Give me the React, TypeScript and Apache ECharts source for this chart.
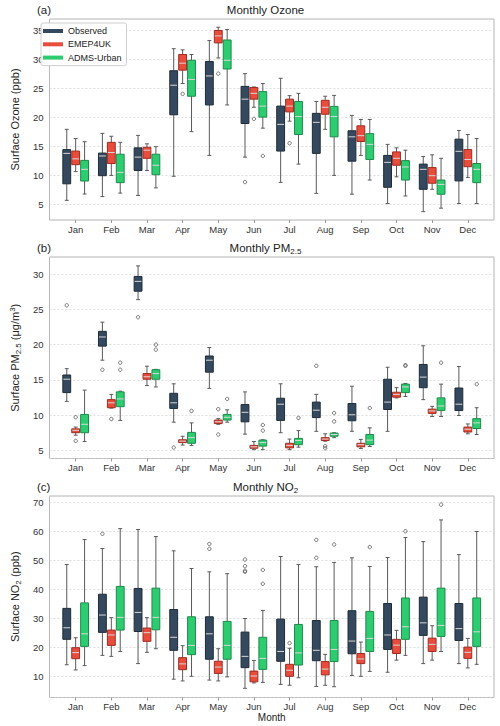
import React, { useEffect, useRef } from "react";
import * as echarts from "echarts";

const MONTHS = ["Jan", "Feb", "Mar", "Apr", "May", "Jun", "Jul", "Aug", "Sep", "Oct", "Nov", "Dec"];
const SERIES_NAMES = ["Observed", "EMEP4UK", "ADMS-Urban"];

// [min, q1, median, q3, max] per month
const OZONE_OBS = [
  [5.75, 8.6, 13.85, 14.5, 18.0], [6.4, 10.0, 13.4, 13.9, 17.3], [6.6, 10.9, 13.2, 14.8, 16.95],
  [9.9, 20.5, 25.6, 28.1, 31.9], [13.5, 22.2, 27.2, 29.7, 33.3], [13.2, 19.0, 23.2, 25.4, 27.6],
  [8.85, 14.25, 18.85, 22.0, 26.8], [6.95, 13.85, 19.2, 20.75, 22.8], [6.8, 12.5, 16.7, 17.75, 20.4],
  [5.2, 8.0, 12.3, 13.5, 15.4], [3.8, 7.65, 11.1, 12.0, 13.3], [5.2, 9.1, 14.2, 16.3, 17.8],
];
const OZONE_EMEP = [
  [10.7, 11.9, 12.9, 14.25, 16.4], [10.05, 12.1, 14.0, 15.75, 16.8], [10.9, 13.0, 14.4, 14.9, 15.5],
  [25.9, 28.2, 29.4, 30.9, 31.7], [30.3, 32.9, 34.1, 35.05, 35.6], [21.8, 23.2, 24.2, 25.2, 25.3],
  [19.4, 21.0, 22.0, 23.2, 23.8], [18.0, 20.6, 21.8, 23.0, 23.7], [13.5, 15.9, 16.9, 18.6, 19.7],
  [9.8, 11.8, 13.0, 14.1, 14.8], [7.65, 8.7, 10.0, 11.4, 13.6], [9.7, 11.55, 12.8, 14.5, 17.1],
];
const OZONE_ADMS = [
  [6.84, 9.08, 11.1, 12.64, 15.86], [7.0, 8.8, 10.57, 13.7, 15.75], [7.9, 10.17, 11.8, 13.7, 15.0],
  [17.6, 23.7, 26.6, 29.9, 30.9], [22.2, 28.4, 29.9, 33.4, 35.2], [18.2, 20.1, 22.0, 24.5, 25.9],
  [12.0, 17.1, 20.2, 22.8, 24.2], [10.05, 16.7, 20.2, 21.95, 23.85], [9.25, 12.8, 15.4, 17.25, 19.7],
  [6.5, 9.25, 11.5, 12.6, 14.4], [4.4, 6.8, 8.5, 9.25, 13.0], [5.2, 8.8, 11.1, 12.1, 16.4],
];
// outliers: [monthIndex, value]
const OZONE_OBS_OUT = [[5, 8.9]];
const OZONE_EMEP_OUT = [[3, 24.1], [4, 27.6], [5, 19.8], [6, 15.6]];
const OZONE_ADMS_OUT = [[5, 13.4]];

const PM_OBS = [
  [11.95, 13.2, 15.1, 15.7, 16.6], [17.8, 19.8, 21.1, 21.9, 23.2], [26.4, 27.6, 29.0, 29.7, 31.2],
  [9.0, 10.95, 11.75, 13.1, 14.45], [13.8, 16.1, 17.8, 18.4, 19.6], [7.3, 9.05, 10.4, 11.5, 13.3],
  [7.5, 9.25, 11.55, 12.4, 14.45], [7.7, 9.65, 10.7, 11.85, 12.95], [7.7, 9.2, 10.05, 11.65, 14.1],
  [7.7, 10.8, 11.85, 15.1, 16.8], [12.2, 13.9, 15.4, 17.2, 19.85], [9.95, 10.65, 11.55, 13.85, 16.9],
];
const PM_EMEP = [
  [7.15, 7.5, 7.85, 8.05, 8.3], [11.0, 11.05, 11.75, 12.2, 12.95], [14.2, 15.1, 15.45, 15.9, 16.95],
  [5.75, 6.1, 6.3, 6.5, 7.0], [8.7, 8.8, 9.05, 9.3, 9.5], [5.1, 5.3, 5.5, 5.7, 6.25],
  [5.1, 5.35, 5.7, 6.0, 6.6], [6.3, 6.4, 6.6, 6.8, 7.35], [5.25, 5.5, 5.8, 6.0, 6.55],
  [12.45, 12.55, 12.95, 13.25, 13.9], [9.8, 10.25, 10.6, 10.85, 11.25], [7.35, 7.6, 8.0, 8.3, 8.75],
];
const PM_ADMS = [
  [6.25, 7.5, 8.7, 10.1, 13.55], [9.25, 11.2, 12.3, 13.3, 13.4], [14.0, 15.1, 15.9, 16.45, 16.5],
  [5.7, 6.0, 6.8, 7.55, 8.9], [9.0, 9.3, 9.7, 10.1, 10.75], [5.1, 5.6, 6.1, 6.45, 6.5],
  [5.45, 5.8, 6.4, 6.7, 7.8], [6.8, 7.0, 7.25, 7.45, 7.5], [5.55, 5.8, 6.45, 7.25, 8.2],
  [12.65, 13.2, 14.0, 14.4, 14.5], [9.8, 10.65, 11.3, 12.45, 14.4], [7.25, 8.1, 8.9, 9.5, 11.05],
];
const PM_OBS_OUT = [[0, 25.6], [1, 16.45], [2, 23.9], [3, 5.4], [7, 17.0]];
const PM_EMEP_OUT = [[0, 9.7], [0, 6.35], [1, 9.45], [4, 10.85], [4, 7.25], [7, 5.6], [7, 5.3]];
const PM_ADMS_OUT = [
  [1, 17.45], [1, 16.45], [2, 20.0], [2, 19.3], [3, 10.6], [4, 12.3], [5, 8.6], [5, 7.8],
  [6, 9.6], [7, 10.3], [7, 9.1], [8, 11.0], [9, 17.0], [9, 17.1], [10, 17.45], [11, 14.4],
];

const NO2_OBS = [
  [13.9, 22.7, 26.7, 33.4, 48.6], [17.15, 25.1, 31.1, 38.3, 54.1], [14.3, 25.4, 32.0, 40.3, 60.7],
  [8.9, 18.9, 23.4, 33.0, 53.3], [8.6, 15.8, 24.6, 30.5, 46.05], [5.75, 12.9, 16.8, 25.2, 29.9],
  [7.1, 15.1, 18.5, 29.7, 51.35], [6.4, 15.3, 18.9, 29.2, 47.8], [10.2, 17.7, 22.1, 32.6, 50.9],
  [11.3, 19.2, 24.2, 35.1, 51.0], [14.3, 24.05, 28.4, 37.3, 56.5], [14.3, 22.3, 26.4, 35.1, 52.0],
];
const NO2_EMEP = [
  [12.1, 16.0, 18.1, 19.8, 23.25], [16.8, 20.6, 24.2, 25.9, 30.2], [18.2, 22.0, 25.0, 26.6, 30.2],
  [8.3, 12.2, 14.2, 16.35, 20.5], [8.3, 10.9, 13.1, 15.1, 19.45], [7.6, 8.0, 10.0, 11.7, 15.4],
  [6.8, 9.9, 12.0, 14.05, 19.6], [6.8, 10.4, 12.4, 15.0, 17.5], [9.9, 14.3, 15.9, 17.8, 21.75],
  [15.5, 17.8, 20.7, 22.7, 25.8], [15.5, 18.5, 20.95, 23.1, 27.4], [12.8, 16.1, 18.2, 20.0, 23.0],
];
const NO2_ADMS = [
  [13.6, 20.25, 24.6, 35.3, 57.2], [18.5, 25.9, 30.3, 41.0, 61.0], [19.45, 26.0, 30.3, 40.4, 58.25],
  [9.9, 17.4, 20.6, 30.5, 47.2], [9.7, 15.8, 20.6, 28.9, 45.4], [7.8, 12.3, 16.1, 23.4, 32.7],
  [9.4, 13.8, 18.0, 27.85, 48.6], [6.3, 15.0, 19.2, 29.2, 49.3], [11.6, 18.5, 23.0, 32.35, 47.9],
  [17.15, 22.7, 27.05, 37.0, 57.9], [18.5, 23.7, 27.5, 40.4, 64.0], [14.05, 20.25, 25.3, 37.0, 60.0],
];
const NO2_OBS_OUT = [[1, 59.2], [4, 55.7], [4, 54.0], [5, 50.3], [5, 48.0], [5, 46.4], [5, 46.05], [7, 57.1], [7, 50.9]];
const NO2_EMEP_OUT = [[6, 21.4]];
const NO2_ADMS_OUT = [[5, 46.7], [5, 41.9], [7, 55.5], [8, 54.6], [9, 60.1], [10, 69.3]];

const FONT = "'Liberation Sans', Arial, Helvetica, sans-serif";
const FILLS = ["#34495e", "#e74c3c", "#2ecc71"];
const EDGES = ["#1f2b38", "#9e2b20", "#1c8a4a"];
const OFFSETS = [-0.25, 0, 0.25];
const BOX_W = 0.22;
const WHISKER = "#5a5a5a";

const PANELS = [
  { top: 19, height: 201, min: 2.36, max: 37.02, split: 7, name: "Surface Ozone (ppb)", title: "Monthly Ozone", tag: "(a)",
    boxes: [OZONE_OBS, OZONE_EMEP, OZONE_ADMS], outs: [OZONE_OBS_OUT, OZONE_EMEP_OUT, OZONE_ADMS_OUT] },
  { top: 257, height: 201.5, min: 3.84, max: 32.46, split: 6, name: "Surface PM{sub|2.5} (μg/m{sup|3})", title: "Monthly PM{tsub|2.5}", tag: "(b)",
    boxes: [PM_OBS, PM_EMEP, PM_ADMS], outs: [PM_OBS_OUT, PM_EMEP_OUT, PM_ADMS_OUT] },
  { top: 496, height: 201.5, min: 2.57, max: 72.28, split: 7, name: "Surface NO{sub|2} (ppb)", title: "Monthly NO{tsub|2}", tag: "(c)",
    boxes: [NO2_OBS, NO2_EMEP, NO2_ADMS], outs: [NO2_OBS_OUT, NO2_EMEP_OUT, NO2_ADMS_OUT] },
];

function boxRender(k: number) {
  return (params: any, api: any) => {
    const x = api.value(0) + OFFSETS[k];
    const lo = api.coord([x, api.value(1)]);
    const q1 = api.coord([x, api.value(2)]);
    const md = api.coord([x, api.value(3)]);
    const q3 = api.coord([x, api.value(4)]);
    const hi = api.coord([x, api.value(5)]);
    const w = api.size([BOX_W, 0])[0];
    const cx = lo[0];
    const cap = w * 0.25;
    const ws = { stroke: WHISKER, lineWidth: 1 };
    return {
      type: "group",
      children: [
        { type: "line", shape: { x1: cx, y1: hi[1], x2: cx, y2: q3[1] }, style: ws },
        { type: "line", shape: { x1: cx, y1: q1[1], x2: cx, y2: lo[1] }, style: ws },
        { type: "line", shape: { x1: cx - cap, y1: hi[1], x2: cx + cap, y2: hi[1] }, style: ws },
        { type: "line", shape: { x1: cx - cap, y1: lo[1], x2: cx + cap, y2: lo[1] }, style: ws },
        { type: "rect", shape: { x: cx - w / 2, y: q3[1], width: w, height: q1[1] - q3[1] },
          style: { fill: FILLS[k], stroke: EDGES[k], lineWidth: 1 } },
        { type: "line", shape: { x1: cx - w / 2 + 0.5, y1: md[1], x2: cx + w / 2 - 0.5, y2: md[1] },
          style: { stroke: "#d8d8d8", lineWidth: 1 } },
      ],
    };
  };
}

function outRender(k: number) {
  return (params: any, api: any) => {
    const p = api.coord([api.value(0) + OFFSETS[k], api.value(1)]);
    return { type: "circle", shape: { cx: p[0], cy: p[1], r: 1.7 }, style: { fill: "none", stroke: "#555", lineWidth: 0.8 } };
  };
}

const RICH = {
  sub: { fontSize: 8, verticalAlign: "bottom", fontFamily: FONT, color: "#222", lineHeight: 14 },
  sup: { fontSize: 8, verticalAlign: "top", fontFamily: FONT, color: "#222", lineHeight: 14 },
};

export default function App() {
  const ref = useRef<HTMLDivElement>(null);
  useEffect(() => {
    if (!ref.current) return;
    const chart = echarts.init(ref.current, undefined, { renderer: "svg" });
    const grids: any[] = [];
    const xAxes: any[] = [];
    const yAxes: any[] = [];
    const series: any[] = [];
    const graphics: any[] = [];
    const ticks = MONTHS.map((_, i) => i);
    PANELS.forEach((p, gi) => {
      grids.push({ left: 37, top: p.top, width: 457, height: p.height, show: true, borderColor: "#b5b5b5", borderWidth: 1, containLabel: false });
      xAxes.push({
        type: "value", gridIndex: gi, min: -0.735, max: 11.735,
        axisLine: { show: false },
        splitLine: { show: false },
        axisTick: { show: true, customValues: ticks, length: 3, lineStyle: { color: "#999" } },
        axisLabel: { customValues: ticks, formatter: (v: number) => MONTHS[Math.round(v)] ?? "", fontSize: 9.5, color: "#333", fontFamily: FONT, margin: 4 },
        name: gi === 2 ? "Month" : "", nameLocation: "middle", nameGap: 14,
        nameTextStyle: { fontSize: 10, color: "#222", fontFamily: FONT },
      });
      yAxes.push({
        type: "value", gridIndex: gi, min: p.min, max: p.max, splitNumber: p.split,
        axisLine: { show: false }, axisTick: { show: false },
        splitLine: { show: true, lineStyle: { color: "#d6d6d6", type: [2, 2], width: 0.8 } },
        axisLabel: { fontSize: 9.5, color: "#333", fontFamily: FONT, margin: 6, showMinLabel: false, showMaxLabel: false },
        name: p.name, nameLocation: "middle", nameGap: 18, nameRotate: 90,
        nameTextStyle: { fontSize: 11, color: "#222", fontFamily: FONT, lineHeight: 14, rich: RICH },
      });
      for (let k = 0; k < 3; k++) {
        series.push({
          type: "custom", name: SERIES_NAMES[k], xAxisIndex: gi, yAxisIndex: gi,
          itemStyle: { color: FILLS[k], borderColor: EDGES[k] },
          renderItem: boxRender(k),
          encode: { x: 0, y: [1, 2, 3, 4, 5] },
          data: p.boxes[k].map((b, i) => [i, ...b]),
          silent: true,
        });
        series.push({
          type: "custom", name: SERIES_NAMES[k] + " outliers", xAxisIndex: gi, yAxisIndex: gi,
          renderItem: outRender(k),
          encode: { x: 0, y: 1 },
          data: p.outs[k],
          silent: true,
        });
      }
      const ty = p.top - 9;
      graphics.push({ type: "text", x: 37, y: ty, style: { text: p.tag, fontSize: 11.5, fontFamily: FONT, fill: "#222", align: "left", verticalAlign: "middle" } });
      graphics.push({ type: "text", x: 265.5, y: ty, style: {
        text: p.title, fontSize: 11.5, fontFamily: FONT, fill: "#222", align: "center", verticalAlign: "middle",
        rich: { tsub: { fontSize: 8, fontFamily: FONT, fill: "#222", verticalAlign: "bottom", lineHeight: 15 } },
        lineHeight: 15,
      } });
    });
    chart.setOption({
      animation: false,
      backgroundColor: "#fff",
      grid: grids,
      xAxis: xAxes,
      yAxis: yAxes,
      series,
      legend: {
        data: SERIES_NAMES, orient: "vertical", left: 41, top: 23, padding: [2, 5, 2, 2],
        itemWidth: 20, itemHeight: 4, itemGap: 1.3, icon: "rect",
        backgroundColor: "rgba(255,255,255,0.9)", borderColor: "#cfcfcf", borderWidth: 1, borderRadius: 2,
        textStyle: { fontSize: 9, fontFamily: FONT, color: "#222", lineHeight: 12 },
        selectedMode: false,
      },
      graphic: graphics,
    });
    return () => chart.dispose();
  }, []);
  return <div ref={ref} style={{ width: 500, height: 726, position: "absolute", left: 0, top: 0 }} />;
}
